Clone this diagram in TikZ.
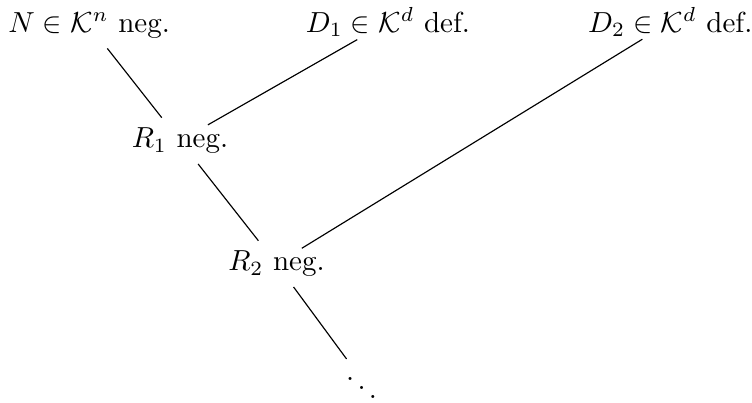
\documentclass[tikz,border=0pt]{standalone}
\usepackage{amsmath}

\tikzset{
  term/.style={anchor=base},
  long/.style={shorten <=-5pt, shorten >=-5pt},
}

\begin{document}
\begin{tikzpicture}[scale=1]
        % \draw[help lines, gray!50, very thin] (0,0) grid (9,5);
        \useasboundingbox (0,0) rectangle (9.11,4.87);

        \node[term] (N) at (1.08,4.48) {$N\in\mathcal{K}^n$ neg.};
        \node[term] (D1) at (4.70,4.48) {$D_1\in\mathcal{K}^d$ def.};
        \node[term] (D2) at (8.12,4.48) {$D_2\in\mathcal{K}^d$ def.};

        \node[term] (R1) at (2.18,3.08) {$R_1$ neg.};
        \node[term] (R2) at (3.35,1.59) {$R_2$ neg.};
        \node[term] (dots) at (4.38,0.01) {$\ddots$};

        \draw (N) -- (R1);
        \draw[long] (D1) -- (R1);
        \draw (R1) -- (R2);
        \draw[long] (D2) -- (R2);
        \draw[shorten >=-5pt] (R2) -- (dots);
      \end{tikzpicture}
\end{document}
